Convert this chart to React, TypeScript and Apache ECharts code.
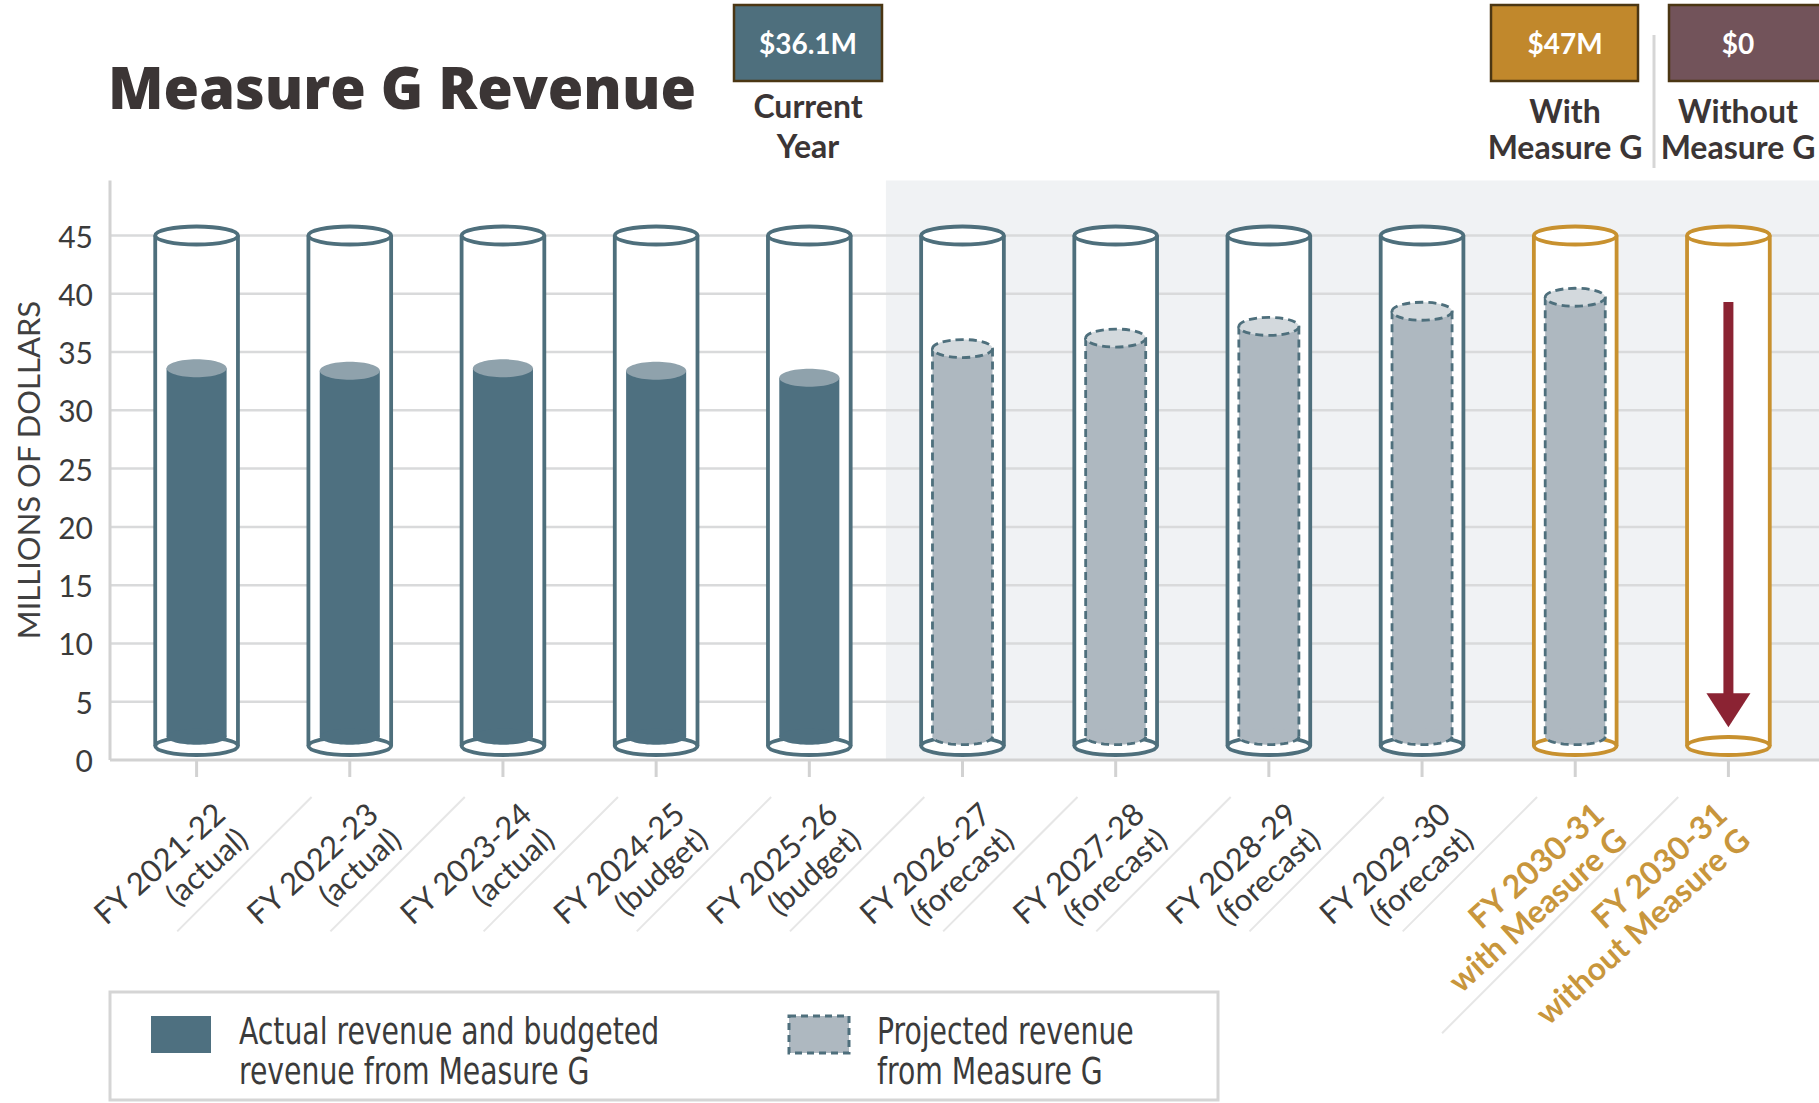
import React, { useEffect, useRef } from "react";
import * as echarts from "echarts";

// ---------- data ----------
const categories = [
  "FY 2021-22\n(actual)",
  "FY 2022-23\n(actual)",
  "FY 2023-24\n(actual)",
  "FY 2024-25\n(budget)",
  "FY 2025-26\n(budget)",
  "FY 2026-27\n(forecast)",
  "FY 2027-28\n(forecast)",
  "FY 2028-29\n(forecast)",
  "FY 2029-30\n(forecast)",
  "FY 2030-31\nwith Measure G",
  "FY 2030-31\nwithout Measure G",
];
const revenue = [33.6, 33.4, 33.6, 33.4, 32.8, 35.3, 36.2, 37.2, 38.5, 39.7, 0];
const fillKind = [
  "actual", "actual", "actual", "actual", "actual",
  "projected", "projected", "projected", "projected", "projected",
  "none",
];
const tubeKind = [
  "base", "base", "base", "base", "base", "base", "base", "base", "base",
  "scenario", "scenario",
];
const yTicks = [0, 5, 10, 15, 20, 25, 30, 35, 40, 45];
const tubeRange = [1.2, 45]; // bottom, top of each glass tube (millions)
const fillBase = 2.0; // bottom of the liquid column
const arrowRange = [39.3, 2.8]; // red arrow: from, to
const headlineValues = ["$36.1M", "$47M", "$0"];
const headlineCaptions = ["Current\nYear", "With\nMeasure G", "Without\nMeasure G"];
const legendLabels = [
  "Actual revenue and budgeted\nrevenue from Measure G",
  "Projected revenue\nfrom Measure G",
];
const yAxisTitle = "MILLIONS OF DOLLARS";
const chartTitle = "Measure G Revenue";

// ---------- styles ----------
const TEAL = "#4e6f7c";
const GOLD = "#c8912f";
const ACTUAL_FILL = "#4e7080";
const ACTUAL_CAP = "#8fa2ac";
const PROJ_FILL = "#aeb8c0";
const PROJ_CAP = "#d3d9dd";
const ARROW = "#8b2333";
const GRID = "#d9dadb";
const TEXT = "#3b3b3b";
const LABEL_GOLD = "#c8963c";
const SANS = "Lato, 'Open Sans', sans-serif";
const NARROW = "'Liberation Sans Narrow', 'DejaVu Sans Condensed', 'Roboto Condensed', Lato, sans-serif";

export default function App() {
  const ref = useRef<HTMLDivElement>(null);

  useEffect(() => {
    if (!ref.current) return;
    const chart = echarts.init(ref.current, null, { renderer: "svg" });

    const idx = categories.map((_, i) => [i, revenue[i]]);
    const firstForecast = fillKind.indexOf("projected");

    const backdrop = (params: any, api: any) => {
      const cs = params.coordSys;
      const W = api.getWidth();
      const x0 = cs.x - 10;
      const yBase = api.coord([0, 0])[1];
      const top = cs.y - 55;
      const band = api.size([1, 0])[0];
      const shadeStart = api.coord([firstForecast, 0])[0] - band / 2;
      const children: any[] = [
        {
          type: "rect",
          shape: { x: shadeStart, y: top, width: W - shadeStart, height: yBase - top },
          style: { fill: "#f0f2f4" },
        },
      ];
      yTicks.forEach((v) => {
        if (v === 0) return;
        const y = api.coord([0, v])[1];
        children.push({
          type: "line",
          shape: { x1: x0, y1: y, x2: W, y2: y },
          style: { stroke: GRID, lineWidth: 2.5 },
        });
      });
      children.push({
        type: "line",
        shape: { x1: x0, y1: top, x2: x0, y2: yBase },
        style: { stroke: "#d2d2d2", lineWidth: 3 },
      });
      children.push({
        type: "line",
        shape: { x1: x0, y1: yBase, x2: W, y2: yBase },
        style: { stroke: "#d2d2d2", lineWidth: 3 },
      });
      categories.forEach((_, i) => {
        const cx = api.coord([i, 0])[0];
        children.push({
          type: "line",
          shape: { x1: cx, y1: yBase, x2: cx, y2: yBase + 17 },
          style: { stroke: "#d2d2d2", lineWidth: 3 },
        });
      });
      return { type: "group", children };
    };

    const tube = (params: any, api: any) => {
      const i = params.dataIndex;
      const v = api.value(1);
      const c = api.coord([i, 0])[0];
      const band = api.size([1, 0])[0];
      const R = band * 0.27;
      const r = band * 0.196;
      const ry = 9;
      const yTop = api.coord([i, tubeRange[1]])[1];
      const yBot = api.coord([i, tubeRange[0]])[1];
      const stroke = tubeKind[i] === "scenario" ? GOLD : TEAL;
      const lw = 3.8;
      const children: any[] = [
        { type: "rect", shape: { x: c - R, y: yTop, width: 2 * R, height: yBot - yTop }, style: { fill: "#ffffff" } },
        { type: "ellipse", shape: { cx: c, cy: yBot, rx: R, ry }, style: { fill: "#ffffff", stroke, lineWidth: lw } },
        { type: "line", shape: { x1: c - R, y1: yTop, x2: c - R, y2: yBot }, style: { stroke, lineWidth: lw } },
        { type: "line", shape: { x1: c + R, y1: yTop, x2: c + R, y2: yBot }, style: { stroke, lineWidth: lw } },
      ];
      const kind = fillKind[i];
      if (kind !== "none" && v > 0) {
        const yVal = api.coord([i, v])[1];
        const yFB = api.coord([i, fillBase])[1];
        const body = kind === "actual" ? ACTUAL_FILL : PROJ_FILL;
        const cap = kind === "actual" ? ACTUAL_CAP : PROJ_CAP;
        children.push({ type: "rect", shape: { x: c - r, y: yVal, width: 2 * r, height: yFB - yVal }, style: { fill: body } });
        children.push({ type: "ellipse", shape: { cx: c, cy: yFB, rx: r, ry: 8 }, style: { fill: body } });
        if (kind === "projected") {
          const dash = { stroke: TEAL, lineWidth: 2.8, lineDash: [8, 5] };
          children.push({ type: "line", shape: { x1: c - r, y1: yVal, x2: c - r, y2: yFB }, style: { ...dash } });
          children.push({ type: "line", shape: { x1: c + r, y1: yVal, x2: c + r, y2: yFB }, style: { ...dash } });
          const pts: number[][] = [];
          for (let k = 0; k <= 24; k++) {
            const t = (Math.PI * k) / 24;
            pts.push([c + r * Math.cos(t), yFB + 8 * Math.sin(t)]);
          }
          children.push({ type: "polyline", shape: { points: pts }, style: { ...dash, fill: null } });
          children.push({ type: "ellipse", shape: { cx: c, cy: yVal, rx: r, ry }, style: { fill: cap, ...dash } });
        } else {
          children.push({ type: "ellipse", shape: { cx: c, cy: yVal, rx: r, ry }, style: { fill: cap } });
        }
      }
      if (kind === "none") {
        const yFrom = api.coord([i, arrowRange[0]])[1];
        const yTo = api.coord([i, arrowRange[1]])[1];
        const headLen = 34;
        const headW = 22;
        children.push({
          type: "rect",
          shape: { x: c - 5, y: yFrom, width: 10, height: yTo - headLen - yFrom + 1 },
          style: { fill: ARROW },
        });
        children.push({
          type: "polygon",
          shape: { points: [[c - headW, yTo - headLen], [c + headW, yTo - headLen], [c, yTo]] },
          style: { fill: ARROW },
        });
      }
      children.push({ type: "ellipse", shape: { cx: c, cy: yTop, rx: R, ry }, style: { fill: "#ffffff", stroke, lineWidth: lw } });
      return { type: "group", children };
    };

    const labels = (params: any, api: any) => {
      const i = params.dataIndex;
      const pt = api.coord([i, 0]);
      const c = pt[0];
      const yBase = pt[1];
      const gold = tubeKind[i] === "scenario";
      const last = i === categories.length - 1;
      const shift = last ? -30 : 0;
      const children: any[] = [
        {
          type: "text",
          x: c + 34 + shift,
          y: yBase + 61,
          rotation: (42 * Math.PI) / 180,
          style: {
            text: categories[i],
            x: 0,
            y: 0,
            align: "right",
            verticalAlign: "middle",
            fill: gold ? LABEL_GOLD : TEXT,
            fontFamily: SANS,
            fontSize: gold ? 32 : 31,
            fontWeight: gold ? "bold" : "normal",
            lineHeight: 34,
          },
        },
      ];
      if (!last) {
        const next9 = i === categories.length - 2;
        const ux = c + (next9 ? 103 : 115);
        const uy = yBase + 37;
        const L = next9 ? 334 : 190;
        const d = L / Math.SQRT2;
        children.push({
          type: "line",
          shape: { x1: ux, y1: uy, x2: ux - d, y2: uy + d },
          style: { stroke: "#e6e6e6", lineWidth: 2 },
        });
      }
      return { type: "group", children };
    };

    const boxes = [
      { x: 734, w: 148, fill: "#4e6f7d", cx: 808, capY: 125, capLH: 40 },
      { x: 1491, w: 147, fill: "#c1882c", cx: 1565, capY: 128, capLH: 36 },
      { x: 1669, w: 160, fill: "#72535a", cx: 1738, capY: 128, capLH: 36 },
    ];

    const graphic: any[] = [
      {
        type: "text",
        x: 108,
        y: 86,
        scaleX: 0.975,
        style: {
          text: chartTitle,
          fill: "#3b3535",
          font: "800 59px 'Open Sans', sans-serif",
          verticalAlign: "middle",
        },
      },
      {
        type: "line",
        shape: { x1: 1654, y1: 35, x2: 1654, y2: 168 },
        style: { stroke: "#d6d6d6", lineWidth: 3 },
      },
      {
        type: "text",
        x: 28,
        y: 470,
        rotation: Math.PI / 2,
        style: {
          text: yAxisTitle,
          fill: "#404040",
          fontFamily: SANS,
          fontSize: 31,
          align: "center",
          verticalAlign: "middle",
        },
      },
      {
        type: "rect",
        shape: { x: 110, y: 992, width: 1108, height: 108 },
        style: { fill: "none", stroke: "#d5d5d5", lineWidth: 3 },
      },
      {
        type: "rect",
        shape: { x: 151, y: 1016, width: 60, height: 37 },
        style: { fill: ACTUAL_FILL },
      },
      {
        type: "text",
        x: 239,
        y: 1051,
        scaleX: 0.85,
        style: {
          text: legendLabels[0],
          fill: TEXT,
          fontFamily: NARROW,
          fontSize: 37,
          lineHeight: 40,
          verticalAlign: "middle",
        },
      },
      {
        type: "rect",
        shape: { x: 789, y: 1016, width: 60, height: 37 },
        style: { fill: PROJ_FILL, stroke: TEAL, lineWidth: 3, lineDash: [7, 5] },
      },
      {
        type: "text",
        x: 877,
        y: 1051,
        scaleX: 0.85,
        style: {
          text: legendLabels[1],
          fill: TEXT,
          fontFamily: NARROW,
          fontSize: 37,
          lineHeight: 40,
          verticalAlign: "middle",
        },
      },
    ];
    boxes.forEach((b, k) => {
      graphic.push({
        type: "rect",
        shape: { x: b.x, y: 5, width: b.w, height: 76 },
        style: { fill: b.fill, stroke: "#4b3613", lineWidth: 2.5 },
      });
      graphic.push({
        type: "text",
        x: b.cx,
        y: 43,
        style: {
          text: headlineValues[k],
          fill: "#ffffff",
          fontFamily: SANS,
          fontWeight: "bold",
          fontSize: 28,
          align: "center",
          verticalAlign: "middle",
        },
      });
      graphic.push({
        type: "text",
        x: b.cx,
        y: b.capY,
        style: {
          text: headlineCaptions[k],
          fill: "#3b3535",
          fontFamily: SANS,
          fontWeight: "bold",
          fontSize: 32,
          lineHeight: b.capLH,
          align: "center",
          verticalAlign: "middle",
        },
      });
    });

    chart.setOption({
      animation: false,
      backgroundColor: "#ffffff",
      grid: { left: 120, right: 14, top: 235.5, bottom: 343, containLabel: false, outerBoundsMode: "none" },
      xAxis: {
        type: "category",
        data: categories,
        axisLine: { show: false },
        axisTick: { show: false },
        axisLabel: { show: false },
        splitLine: { show: false },
      },
      yAxis: {
        type: "value",
        min: 0,
        max: 45,
        interval: 5,
        axisLine: { show: false },
        axisTick: { show: false },
        splitLine: { show: false },
        axisLabel: { margin: 27, fontSize: 30, color: TEXT, fontFamily: SANS },
      },
      graphic,
      series: [
        { type: "custom", name: "backdrop", data: [[0, 0]], renderItem: backdrop, z: 0, silent: true, clip: false },
        { type: "custom", name: "Revenue", data: idx, renderItem: tube, z: 2, clip: false },
        { type: "custom", name: "labels", data: idx, renderItem: labels, z: 3, silent: true, clip: false },
      ],
    });

    return () => chart.dispose();
  }, []);

  return (
    <div
      ref={ref}
      style={{ position: "fixed", left: 0, top: 0, width: 1819, height: 1103 }}
    />
  );
}
